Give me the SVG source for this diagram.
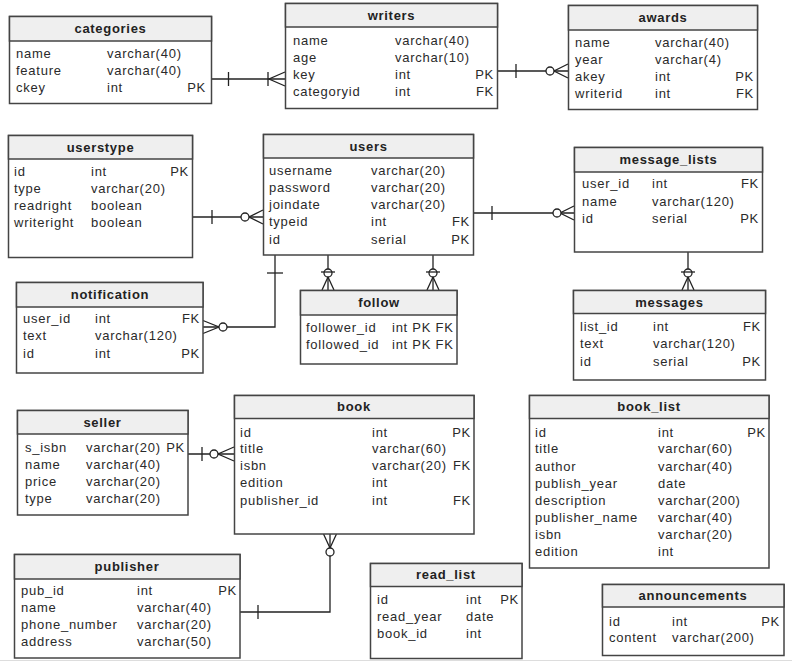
<svg xmlns="http://www.w3.org/2000/svg" width="792" height="662" viewBox="0 0 792 662">
  <style>
    .box { fill: #ffffff; stroke: #444444; stroke-width: 1.5; }
    .hdr { fill: #efefef; stroke: #444444; stroke-width: 1.5; }
    .title { font-family: "Liberation Sans", Arial, sans-serif; font-size: 13px; font-weight: bold; letter-spacing: 0.7px; fill: #222222; text-anchor: middle; }
    .t { font-family: "Liberation Sans", Arial, sans-serif; font-size: 13px; letter-spacing: 0.75px; fill: #2a2a2a; }
    .r { text-anchor: end; }
    .ln { fill: none; stroke: #222222; stroke-width: 1.3; }
    .ring { fill: #ffffff; stroke: #222222; stroke-width: 1.3; }
  </style>

  <rect x="0" y="0" width="792" height="662" fill="#ffffff"/>
  <line x1="0" y1="660.5" x2="792" y2="660.5" stroke="#dddddd" stroke-width="1"/>

  <!-- relationship lines -->
  <g id="connectors">
    <!-- categories 1 : N writers -->
    <line class="ln" x1="211" y1="79" x2="285" y2="79"/>
    <line class="ln" x1="228.5" y1="72" x2="228.5" y2="86"/>
    <line class="ln" x1="268" y1="72" x2="268" y2="86"/>
    <path class="ln" d="M285 72 L269 79 L285 86"/>

    <!-- writers 1 : 0..N awards -->
    <line class="ln" x1="498" y1="71" x2="568" y2="71"/>
    <line class="ln" x1="516" y1="64" x2="516" y2="78"/>
    <path class="ln" d="M568 64 L554 71 L568 78"/>
    <circle class="ring" cx="550" cy="71" r="4"/>

    <!-- userstype 1 : 0..N users -->
    <line class="ln" x1="193" y1="217" x2="263" y2="217"/>
    <line class="ln" x1="212" y1="210" x2="212" y2="224"/>
    <path class="ln" d="M263 210 L249 217 L263 224"/>
    <circle class="ring" cx="245" cy="217" r="4"/>

    <!-- users 1 : 0..N notification -->
    <path class="ln" d="M275 255 L275 327 L203 327"/>
    <line class="ln" x1="267" y1="273" x2="283" y2="273"/>
    <path class="ln" d="M203 320.5 L219 327 L203 333.5"/>
    <circle class="ring" cx="223" cy="327" r="4"/>

    <!-- users 1 : 0..N follow (follower) -->
    <line class="ln" x1="328" y1="255" x2="328" y2="290"/>
    <path class="ln" d="M322 290 L328 277 L334 290"/>
    <circle class="ring" cx="328" cy="273" r="4"/>
    <line class="ln" x1="321" y1="272" x2="335" y2="272"/>

    <!-- users 1 : 0..N follow (followed) -->
    <line class="ln" x1="433" y1="255" x2="433" y2="290"/>
    <path class="ln" d="M427 290 L433 277 L439 290"/>
    <circle class="ring" cx="433" cy="273" r="4"/>
    <line class="ln" x1="426" y1="272" x2="440" y2="272"/>

    <!-- users 1 : 0..N message_lists -->
    <line class="ln" x1="473" y1="213" x2="574" y2="213"/>
    <line class="ln" x1="492" y1="206" x2="492" y2="220"/>
    <path class="ln" d="M574 206 L560 213 L574 220"/>
    <circle class="ring" cx="557" cy="213" r="4"/>

    <!-- message_lists 1 : 0..N messages -->
    <line class="ln" x1="688" y1="252" x2="688" y2="290"/>
    <path class="ln" d="M682 290 L688 277 L694 290"/>
    <circle class="ring" cx="688" cy="273" r="4"/>
    <line class="ln" x1="681" y1="272" x2="695" y2="272"/>

    <!-- seller 1 : 0..N book -->
    <line class="ln" x1="188" y1="454" x2="234" y2="454"/>
    <line class="ln" x1="202" y1="447" x2="202" y2="461"/>
    <path class="ln" d="M234 447 L218 454 L234 461"/>
    <circle class="ring" cx="214" cy="454" r="4"/>

    <!-- publisher 1 : 0..N book -->
    <path class="ln" d="M330 534 L330 612 L240 612"/>
    <path class="ln" d="M323.5 534 L330 548 L336.5 534"/>
    <circle class="ring" cx="330" cy="552" r="4"/>
    <line class="ln" x1="258" y1="605" x2="258" y2="619"/>
  </g>

  <g id="categories">
    <rect class="box" x="9.5" y="16.5" width="202" height="87"/>
    <rect class="hdr" x="9.5" y="16.5" width="202" height="24.5"/>
    <text class="title" x="110.5" y="33">categories</text>
    <text class="t" x="16" y="58">name</text><text class="t" x="107" y="58">varchar(40)</text>
    <text class="t" x="16" y="75">feature</text><text class="t" x="107" y="75">varchar(40)</text>
    <text class="t" x="16" y="92">ckey</text><text class="t" x="107" y="92">int</text><text class="t r" x="206" y="92">PK</text>
  </g>

  <g id="writers">
    <rect class="box" x="285.5" y="3.5" width="212" height="105"/>
    <rect class="hdr" x="285.5" y="3.5" width="212" height="23.5"/>
    <text class="title" x="391.5" y="20">writers</text>
    <text class="t" x="293" y="44.5">name</text><text class="t" x="395" y="44.5">varchar(40)</text>
    <text class="t" x="293" y="61.5">age</text><text class="t" x="395" y="61.5">varchar(10)</text>
    <text class="t" x="293" y="78.5">key</text><text class="t" x="395" y="78.5">int</text><text class="t r" x="494" y="78.5">PK</text>
    <text class="t" x="293" y="95.5">categoryid</text><text class="t" x="395" y="95.5">int</text><text class="t r" x="494" y="95.5">FK</text>
  </g>

  <g id="awards">
    <rect class="box" x="568.5" y="5.5" width="189" height="104"/>
    <rect class="hdr" x="568.5" y="5.5" width="189" height="24.5"/>
    <text class="title" x="663" y="22">awards</text>
    <text class="t" x="575" y="46.5">name</text><text class="t" x="655" y="46.5">varchar(40)</text>
    <text class="t" x="575" y="63.5">year</text><text class="t" x="655" y="63.5">varchar(4)</text>
    <text class="t" x="575" y="81">akey</text><text class="t" x="655" y="81">int</text><text class="t r" x="754" y="81">PK</text>
    <text class="t" x="575" y="98">writerid</text><text class="t" x="655" y="98">int</text><text class="t r" x="754" y="98">FK</text>
  </g>

  <g id="userstype">
    <rect class="box" x="8.5" y="135.5" width="184" height="122"/>
    <rect class="hdr" x="8.5" y="135.5" width="184" height="23.5"/>
    <text class="title" x="100.5" y="152">userstype</text>
    <text class="t" x="14" y="175.5">id</text><text class="t" x="91" y="175.5">int</text><text class="t r" x="189" y="175.5">PK</text>
    <text class="t" x="14" y="192.5">type</text><text class="t" x="91" y="192.5">varchar(20)</text>
    <text class="t" x="14" y="210">readright</text><text class="t" x="91" y="210">boolean</text>
    <text class="t" x="14" y="227">writeright</text><text class="t" x="91" y="227">boolean</text>
  </g>

  <g id="users">
    <rect class="box" x="263.5" y="134.5" width="210" height="120.5"/>
    <rect class="hdr" x="263.5" y="134.5" width="210" height="23.5"/>
    <text class="title" x="368.5" y="151">users</text>
    <text class="t" x="269" y="174.5">username</text><text class="t" x="371" y="174.5">varchar(20)</text>
    <text class="t" x="269" y="191.5">password</text><text class="t" x="371" y="191.5">varchar(20)</text>
    <text class="t" x="269" y="209">joindate</text><text class="t" x="371" y="209">varchar(20)</text>
    <text class="t" x="269" y="226">typeid</text><text class="t" x="371" y="226">int</text><text class="t r" x="470" y="226">FK</text>
    <text class="t" x="269" y="243.5">id</text><text class="t" x="371" y="243.5">serial</text><text class="t r" x="470" y="243.5">PK</text>
  </g>

  <g id="message_lists">
    <rect class="box" x="574.5" y="147.5" width="188" height="104.5"/>
    <rect class="hdr" x="574.5" y="147.5" width="188" height="24.5"/>
    <text class="title" x="668.5" y="163.5">message_lists</text>
    <text class="t" x="582" y="188">user_id</text><text class="t" x="652" y="188">int</text><text class="t r" x="759" y="188">FK</text>
    <text class="t" x="582" y="205.5">name</text><text class="t" x="652" y="205.5">varchar(120)</text>
    <text class="t" x="582" y="222.5">id</text><text class="t" x="652" y="222.5">serial</text><text class="t r" x="759" y="222.5">PK</text>
  </g>

  <g id="notification">
    <rect class="box" x="16.5" y="282.5" width="186.5" height="90.5"/>
    <rect class="hdr" x="16.5" y="282.5" width="186.5" height="24.5"/>
    <text class="title" x="110" y="298.5">notification</text>
    <text class="t" x="23" y="322.5">user_id</text><text class="t" x="95" y="322.5">int</text><text class="t r" x="200" y="322.5">FK</text>
    <text class="t" x="23" y="340">text</text><text class="t" x="95" y="340">varchar(120)</text>
    <text class="t" x="23" y="357.5">id</text><text class="t" x="95" y="357.5">int</text><text class="t r" x="200" y="357.5">PK</text>
  </g>

  <g id="follow">
    <rect class="box" x="300.5" y="290.5" width="156.5" height="73.5"/>
    <rect class="hdr" x="300.5" y="290.5" width="156.5" height="24.5"/>
    <text class="title" x="379" y="306.5">follow</text>
    <text class="t" x="306" y="331.5">follower_id</text><text class="t" x="392" y="331.5">int PK FK</text>
    <text class="t" x="306" y="348.5">followed_id</text><text class="t" x="392" y="348.5">int PK FK</text>
  </g>

  <g id="messages">
    <rect class="box" x="573.5" y="290.5" width="192" height="89.5"/>
    <rect class="hdr" x="573.5" y="290.5" width="192" height="23"/>
    <text class="title" x="669.5" y="306.5">messages</text>
    <text class="t" x="580" y="330.5">list_id</text><text class="t" x="653" y="330.5">int</text><text class="t r" x="761" y="330.5">FK</text>
    <text class="t" x="580" y="347.5">text</text><text class="t" x="653" y="347.5">varchar(120)</text>
    <text class="t" x="580" y="365.5">id</text><text class="t" x="653" y="365.5">serial</text><text class="t r" x="761" y="365.5">PK</text>
  </g>

  <g id="seller">
    <rect class="box" x="17.5" y="410.5" width="170.5" height="104.5"/>
    <rect class="hdr" x="17.5" y="410.5" width="170.5" height="23.5"/>
    <text class="title" x="102.5" y="426.5">seller</text>
    <text class="t" x="25" y="451.5">s_isbn</text><text class="t" x="86" y="451.5">varchar(20)</text><text class="t r" x="185" y="451.5">PK</text>
    <text class="t" x="25" y="468.5">name</text><text class="t" x="86" y="468.5">varchar(40)</text>
    <text class="t" x="25" y="485.5">price</text><text class="t" x="86" y="485.5">varchar(20)</text>
    <text class="t" x="25" y="502.5">type</text><text class="t" x="86" y="502.5">varchar(20)</text>
  </g>

  <g id="book">
    <rect class="box" x="234.5" y="395.5" width="239.5" height="138.5"/>
    <rect class="hdr" x="234.5" y="395.5" width="239.5" height="23"/>
    <text class="title" x="354" y="410.5">book</text>
    <text class="t" x="240" y="436.5">id</text><text class="t" x="372" y="436.5">int</text><text class="t r" x="471" y="436.5">PK</text>
    <text class="t" x="240" y="453">title</text><text class="t" x="372" y="453">varchar(60)</text>
    <text class="t" x="240" y="470">isbn</text><text class="t" x="372" y="470">varchar(20)</text><text class="t r" x="471" y="470">FK</text>
    <text class="t" x="240" y="487">edition</text><text class="t" x="372" y="487">int</text>
    <text class="t" x="240" y="504.5">publisher_id</text><text class="t" x="372" y="504.5">int</text><text class="t r" x="471" y="504.5">FK</text>
  </g>

  <g id="book_list">
    <rect class="box" x="529.5" y="395.5" width="239.5" height="172.5"/>
    <rect class="hdr" x="529.5" y="395.5" width="239.5" height="23"/>
    <text class="title" x="649" y="410.5">book_list</text>
    <text class="t" x="535" y="436.5">id</text><text class="t" x="658" y="436.5">int</text><text class="t r" x="766" y="436.5">PK</text>
    <text class="t" x="535" y="453">title</text><text class="t" x="658" y="453">varchar(60)</text>
    <text class="t" x="535" y="470.5">author</text><text class="t" x="658" y="470.5">varchar(40)</text>
    <text class="t" x="535" y="487.5">publish_year</text><text class="t" x="658" y="487.5">date</text>
    <text class="t" x="535" y="504.5">description</text><text class="t" x="658" y="504.5">varchar(200)</text>
    <text class="t" x="535" y="521.5">publisher_name</text><text class="t" x="658" y="521.5">varchar(40)</text>
    <text class="t" x="535" y="538.5">isbn</text><text class="t" x="658" y="538.5">varchar(20)</text>
    <text class="t" x="535" y="556">edition</text><text class="t" x="658" y="556">int</text>
  </g>

  <g id="publisher">
    <rect class="box" x="14.5" y="554.5" width="225.5" height="103.5"/>
    <rect class="hdr" x="14.5" y="554.5" width="225.5" height="24.5"/>
    <text class="title" x="127" y="570.5">publisher</text>
    <text class="t" x="21" y="594.5">pub_id</text><text class="t" x="137" y="594.5">int</text><text class="t r" x="237" y="594.5">PK</text>
    <text class="t" x="21" y="611.5">name</text><text class="t" x="137" y="611.5">varchar(40)</text>
    <text class="t" x="21" y="629">phone_number</text><text class="t" x="137" y="629">varchar(20)</text>
    <text class="t" x="21" y="646">address</text><text class="t" x="137" y="646">varchar(50)</text>
  </g>

  <g id="read_list">
    <rect class="box" x="370.5" y="563.5" width="151.5" height="95"/>
    <rect class="hdr" x="370.5" y="563.5" width="151.5" height="23"/>
    <text class="title" x="446" y="579">read_list</text>
    <text class="t" x="377" y="603.5">id</text><text class="t" x="466" y="603.5">int</text><text class="t r" x="519" y="603.5">PK</text>
    <text class="t" x="377" y="621">read_year</text><text class="t" x="466" y="621">date</text>
    <text class="t" x="377" y="638">book_id</text><text class="t" x="466" y="638">int</text>
  </g>

  <g id="announcements">
    <rect class="box" x="602.5" y="584.5" width="181.5" height="71"/>
    <rect class="hdr" x="602.5" y="584.5" width="181.5" height="22.5"/>
    <text class="title" x="693" y="600">announcements</text>
    <text class="t" x="609" y="625.5">id</text><text class="t" x="672" y="625.5">int</text><text class="t r" x="780" y="625.5">PK</text>
    <text class="t" x="609" y="641.5">content</text><text class="t" x="672" y="641.5">varchar(200)</text>
  </g>
</svg>
